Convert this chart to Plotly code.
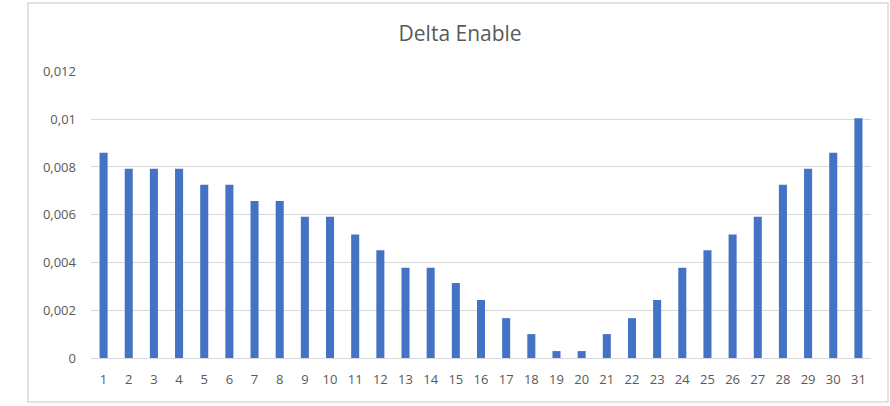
import plotly.graph_objects as go

categories = [str(i) for i in range(1, 32)]
values = [0.00860, 0.00793, 0.00793, 0.00793, 0.00726, 0.00726, 0.00658, 0.00658,
          0.00592, 0.00592, 0.00517, 0.00451, 0.00378, 0.00378, 0.00314, 0.00243,
          0.00167, 0.00100, 0.00029, 0.00029, 0.00100, 0.00167, 0.00243, 0.00378,
          0.00451, 0.00517, 0.00592, 0.00726, 0.00793, 0.00860, 0.01004]
y_ticks = [0, 0.002, 0.004, 0.006, 0.008, 0.010, 0.012]
y_tick_labels = ["0", "0,002", "0,004", "0,006", "0,008", "0,01", "0,012"]

fig = go.Figure(go.Bar(x=categories, y=values, marker_color="#4472C4",
                       marker_line_width=0))

fig.update_layout(
    width=890, height=406,
    margin=dict(l=91, r=19, t=71, b=48),
    paper_bgcolor="white", plot_bgcolor="white",
    bargap=0.68,
    showlegend=False,
    font=dict(family="Open Sans", color="#595959", size=13),
    title=dict(text="Delta Enable", x=0.517, xanchor="center", y=0.918, yanchor="middle",
               font=dict(family="Open Sans", size=21, color="#595959")),
    xaxis=dict(type="category", showgrid=False, showline=True, linecolor="#d9d9d9",
               ticks="", tickfont=dict(size=13), ticklabelstandoff=9),
    yaxis=dict(range=[0, 0.01202], tickvals=y_ticks, ticktext=y_tick_labels,
               showgrid=True, gridcolor="#d9d9d9", gridwidth=1, zeroline=False,
               showline=False, ticks="", tickfont=dict(size=13), ticklabelstandoff=14),
    shapes=[dict(type="rect", xref="paper", yref="paper",
                 x0=-0.0809, x1=1.0218, y0=-0.1533, y1=1.237,
                 line=dict(color="#d9d9d9", width=1.5), layer="below")],
)

fig.write_html("out.html", config={"displayModeBar": False},
               post_script="document.body.style.margin='0';")
